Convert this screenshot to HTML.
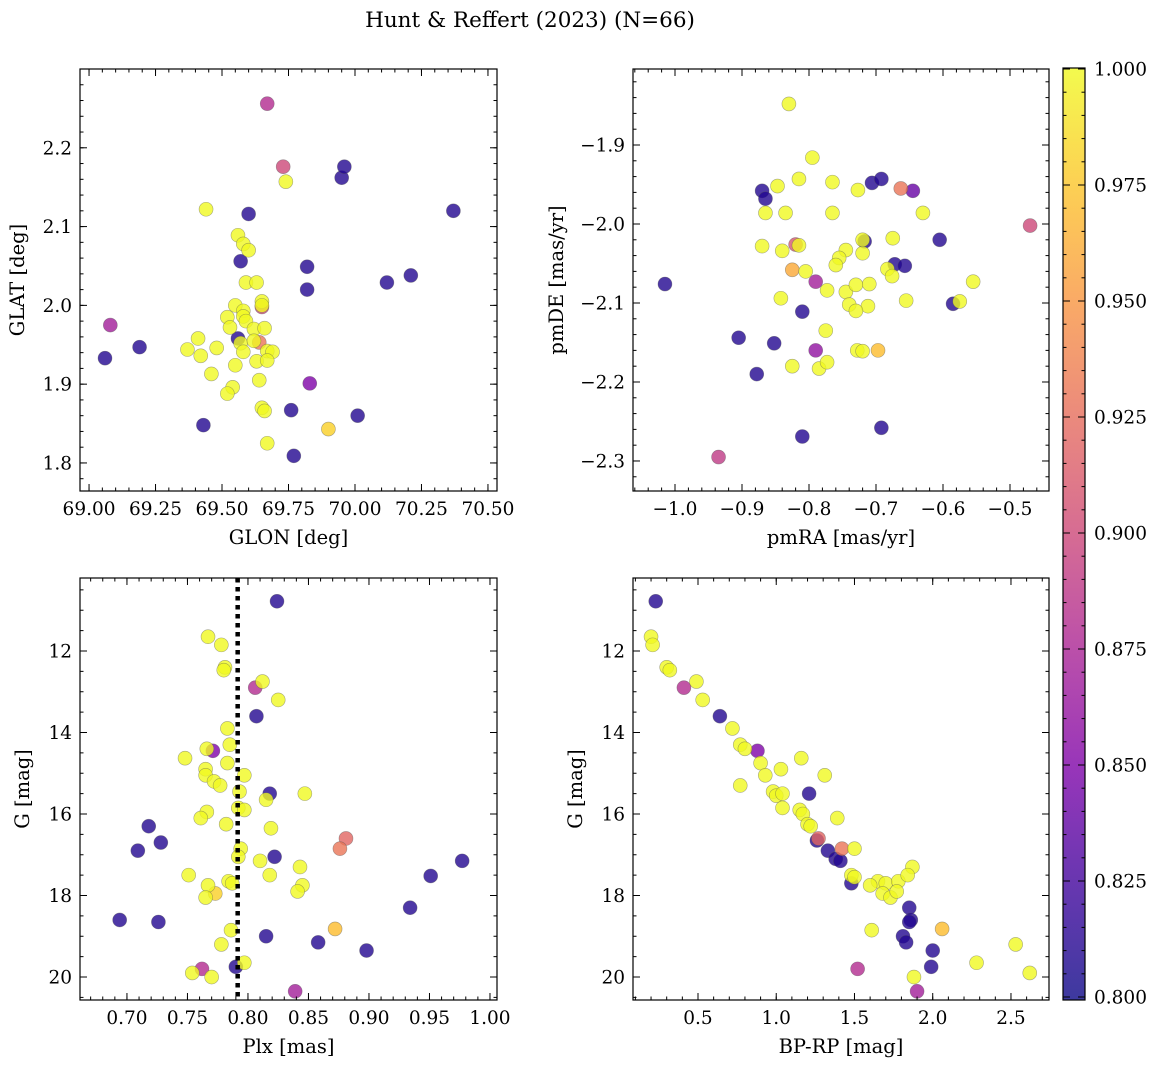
<!DOCTYPE html>
<html><head><meta charset="utf-8"><style>
body{margin:0;background:#fff;}
svg text{font-family:"DejaVu Serif","Liberation Serif",serif;fill:#000;}
</style></head><body>
<svg id="fig" width="1160" height="1068" xmlns="http://www.w3.org/2000/svg">
<text x="530" y="27" font-size="21.5" text-anchor="middle">Hunt &amp; Reffert (2023) (N=66)</text>
</svg>
<script>
// Panel 1: GLON vs GLAT
const glonVals=[69.06,69.19,69.43,69.57,69.60,69.56,69.76,69.77,69.82,69.82,69.83,69.95,69.96,70.01,70.12,70.21,70.37,69.08,69.67,69.73,69.65,69.64,
69.44,69.56,69.58,69.60,69.74,69.59,69.63,69.65,69.65,69.55,69.52,69.53,69.58,69.58,69.59,69.62,69.66,69.41,69.37,69.42,69.48,69.57,69.58,69.62,69.67,69.69,69.63,69.67,69.55,69.46,69.54,69.52,69.64,69.65,69.66,69.67,69.90];
const glatVals=[1.933,1.947,1.848,2.056,2.116,1.958,1.867,1.809,2.049,2.020,1.901,2.162,2.176,1.860,2.029,2.038,2.120,1.975,2.256,2.176,1.998,1.953,
2.122,2.089,2.078,2.070,2.157,2.029,2.029,2.005,2.000,2.000,1.985,1.972,1.993,1.986,1.980,1.970,1.971,1.958,1.944,1.936,1.946,1.952,1.941,1.955,1.942,1.941,1.929,1.930,1.924,1.913,1.896,1.888,1.905,1.870,1.866,1.825,1.843];
const probP1=[0.81,0.81,0.81,0.81,0.81,0.81,0.81,0.81,0.81,0.81,0.85,0.81,0.81,0.81,0.81,0.81,0.81,0.87,0.88,0.90,0.90,0.93,
1,1,1,1,1,1,1,1,1,1,1,1,1,1,1,1,1,1,1,1,1,1,1,1,1,1,1,1,1,1,1,1,1,1,1,1,0.98];
// Panel 2: pmRA vs pmDE
const pmraVals=[-1.015,-0.905,-0.852,-0.878,-0.87,-0.865,-0.810,-0.810,-0.717,-0.706,-0.692,-0.692,-0.672,-0.657,-0.645,-0.605,-0.585,-0.790,-0.790,
-0.935,-0.47,-0.663,-0.82,-0.825,-0.697,
-0.83,-0.795,-0.815,-0.765,-0.847,-0.727,-0.865,-0.835,-0.765,-0.63,-0.87,-0.84,-0.815,-0.745,-0.755,-0.76,-0.805,-0.72,-0.675,-0.72,-0.683,-0.676,-0.745,-0.773,-0.73,-0.71,-0.712,-0.74,-0.73,-0.655,-0.575,-0.555,-0.842,-0.775,-0.825,-0.785,-0.773,-0.728,-0.72];
const pmdeVals=[-2.076,-2.144,-2.151,-2.190,-1.958,-1.968,-2.111,-2.269,-2.022,-1.948,-1.943,-2.258,-2.051,-2.053,-1.958,-2.020,-2.101,-2.160,-2.073,
-2.295,-2.002,-1.955,-2.026,-2.058,-2.160,
-1.848,-1.916,-1.943,-1.947,-1.952,-1.957,-1.986,-1.986,-1.986,-1.986,-2.028,-2.034,-2.027,-2.033,-2.043,-2.052,-2.060,-2.020,-2.018,-2.037,-2.057,-2.066,-2.086,-2.084,-2.077,-2.076,-2.104,-2.102,-2.110,-2.097,-2.098,-2.073,-2.094,-2.135,-2.180,-2.183,-2.175,-2.160,-2.161];
const probP2=[0.81,0.81,0.81,0.81,0.81,0.81,0.81,0.81,0.81,0.81,0.81,0.81,0.81,0.81,0.84,0.81,0.81,0.86,0.87,
0.89,0.90,0.93,0.91,0.96,0.97,
1,1,1,1,1,1,1,1,1,1,1,1,1,1,1,1,1,1,1,1,1,1,1,1,1,1,1,1,1,1,1,1,1,1,1,1,1,1,1];
// Panel 3: Plx vs G
const plxVals=[0.824,0.807,0.771,0.818,0.822,0.718,0.709,0.728,0.694,0.726,0.815,0.858,0.898,0.934,0.951,0.977,0.79,
0.806,0.762,0.839,0.881,0.876,0.872,0.773,
0.767,0.778,0.781,0.78,0.812,0.825,0.783,0.785,0.766,0.748,0.765,0.765,0.772,0.777,0.783,0.797,0.793,0.847,0.815,0.792,0.797,0.766,0.761,0.782,0.819,0.794,0.792,0.81,0.843,0.751,0.818,0.784,0.787,0.767,0.845,0.841,0.765,0.786,0.778,0.797,0.754,0.77];
const gP3=[10.78,13.6,14.45,15.5,17.05,16.3,16.9,16.7,18.6,18.65,19.0,19.15,19.35,18.3,17.52,17.15,19.75,
12.9,19.8,20.35,16.6,16.85,18.82,17.95,
11.65,11.85,12.4,12.47,12.75,13.2,13.9,14.3,14.4,14.63,14.9,15.05,15.2,15.3,14.75,15.05,15.45,15.5,15.65,15.85,15.9,15.95,16.1,16.25,16.35,16.85,17.05,17.15,17.3,17.5,17.5,17.65,17.7,17.75,17.75,17.9,18.05,18.85,19.2,19.65,19.9,20.0];
const probP3=[0.81,0.81,0.85,0.81,0.81,0.81,0.81,0.81,0.81,0.81,0.81,0.81,0.81,0.81,0.81,0.81,0.81,
0.88,0.88,0.87,0.92,0.93,0.97,0.98,
1,1,1,1,1,1,1,1,1,1,1,1,1,1,1,1,1,1,1,1,1,1,1,1,1,1,1,1,1,1,1,1,1,1,1,1,1,1,1,1,1,1];
const plxLine=[0.7915];
// Panel 4: BP-RP vs G
const bprpVals=[0.23,0.64,0.88,1.21,1.26,1.33,1.38,1.41,1.48,1.85,1.86,1.85,1.81,1.83,2.0,1.99,
0.41,1.52,1.9,1.27,1.42,2.06,
0.2,0.21,0.3,0.32,0.49,0.53,0.72,0.77,0.8,0.9,0.93,0.77,0.98,1.03,1.16,1.31,1.0,1.04,1.04,1.15,1.17,1.2,1.22,1.39,1.5,1.65,1.7,1.78,1.87,1.84,1.6,1.68,1.73,1.77,1.48,1.61,1.88,2.28,2.53,2.62,1.5];
const gP4=[10.78,13.6,14.45,15.5,16.65,16.9,17.1,17.15,17.7,18.3,18.6,18.65,19.0,19.15,19.35,19.75,
12.9,19.8,20.35,16.6,16.85,18.82,
11.65,11.85,12.4,12.47,12.75,13.2,13.9,14.3,14.4,14.75,15.05,15.3,15.45,14.9,14.63,15.05,15.55,15.5,15.85,15.9,16.0,16.25,16.3,16.1,16.85,17.65,17.7,17.65,17.3,17.5,17.75,17.95,18.05,17.9,17.5,18.85,20.0,19.65,19.2,19.9,17.55];
const probP4=[0.81,0.81,0.85,0.81,0.81,0.81,0.81,0.81,0.81,0.81,0.81,0.81,0.81,0.81,0.81,0.81,
0.88,0.88,0.87,0.92,0.93,0.97,
1,1,1,1,1,1,1,1,1,1,1,1,1,1,1,1,1,1,1,1,1,1,1,1,1,1,1,1,1,1,1,1,1,1,1,1,1,1,1,1,1];
// Colorbar ticks
const cbTicks=[0.800,0.825,0.850,0.875,0.900,0.925,0.950,0.975,1.000];

const NS="http://www.w3.org/2000/svg";
const svg=document.getElementById('fig');
function mk(tag,attrs,parent){const e=document.createElementNS(NS,tag);for(const k in attrs)e.setAttribute(k,attrs[k]);(parent||svg).appendChild(e);return e;}
const stops=[[0,[13,8,135]],[0.125,[65,4,157]],[0.25,[126,3,168]],[0.375,[170,35,149]],[0.5,[204,71,120]],[0.625,[230,108,92]],[0.75,[248,149,64]],[0.875,[253,196,39]],[1,[240,249,33]]];
function plasma(t){t=Math.max(0,Math.min(1,t));for(let i=1;i<stops.length;i++){if(t<=stops[i][0]){const a=stops[i-1],b=stops[i];const f=(t-a[0])/(b[0]-a[0]);const c=a[1].map((v,j)=>Math.round(v+(b[1][j]-v)*f));return `rgb(${c[0]},${c[1]},${c[2]})`;}}return 'rgb(240,249,33)';}
function pcol(p){return plasma((p-0.8)/0.2);}

const TF=18.5, LF=19.5;
function panel(cfg){
  const {name,L,T,R,B,x0,x1,y0,y1,inv,xt,xm,yt,ym,xdec,ydec,xlabel,ylabel,xs,ys,ps}=cfg;
  const g=mk('g',{});
  
  
  const X=v=>L+(v-x0)/(x1-x0)*(R-L);
  const Y=v=>inv?T+(v-y0)/(y1-y0)*(B-T):B-(v-y0)/(y1-y0)*(B-T);
  for(let i=0;i<xs.length;i++){
    const c=mk('circle',{cx:X(xs[i]),cy:Y(ys[i]),r:7,fill:pcol(ps[i]),'fill-opacity':0.8,stroke:'#555','stroke-opacity':0.5,'stroke-width':0.6},g);
    
    
  }
  if(cfg.vline){for(const v of cfg.vline){const l=mk('line',{x1:X(v),x2:X(v),y1:T,y2:B,stroke:'#000','stroke-width':4.5,'stroke-dasharray':'4.5,4.5'},g);
    
    }}
  const fr=mk('rect',{x:L,y:T,width:R-L,height:B-T,fill:'none',stroke:'#000','stroke-width':1.2},g);
  
  
  const ticks=mk('g',{stroke:'#000','stroke-width':1},g);
  for(let v=Math.ceil(x0/xm-1e-6)*xm;v<=x1+1e-9;v+=xm){const x=X(v);mk('line',{x1:x,x2:x,y1:B,y2:B-3.5},ticks);mk('line',{x1:x,x2:x,y1:T,y2:T+3.5},ticks);}
  for(let v=Math.ceil(y0/ym-1e-6)*ym;v<=y1+1e-9;v+=ym){const y=Y(v);mk('line',{x1:L,x2:L+3.5,y1:y,y2:y},ticks);mk('line',{x1:R,x2:R-3.5,y1:y,y2:y},ticks);}
  for(const v of xt){const x=X(v);mk('line',{x1:x,x2:x,y1:B,y2:B-7},ticks);mk('line',{x1:x,x2:x,y1:T,y2:T+7},ticks);
    const t=mk('text',{x:x,y:B+24,'font-size':TF,'text-anchor':'middle'},g);t.textContent=v.toFixed(xdec).replace('-','−');
    
    }
  for(const v of yt){const y=Y(v);mk('line',{x1:L,x2:L+7,y1:y,y2:y},ticks);mk('line',{x1:R,x2:R-7,y1:y,y2:y},ticks);
    const t=mk('text',{x:L-8,y:y+6.5,'font-size':TF,'text-anchor':'end'},g);t.textContent=v.toFixed(ydec).replace('-','−');
    
    }
  const xl=mk('text',{x:(L+R)/2,y:B+53,'font-size':LF,'text-anchor':'middle'},g);xl.textContent=xlabel;
  
  
  const yl=mk('text',{x:0,y:0,'font-size':LF,'text-anchor':'middle',transform:`translate(${cfg.ylx},${(T+B)/2}) rotate(-90)`},g);yl.textContent=ylabel;
  
  
}
function rng(a,b,s){const r=[];for(let v=a;v<=b+1e-9;v+=s)r.push(+v.toFixed(6));return r;}

panel({name:'glon-glat-panel',L:80,T:69,R:497,B:491,x0:68.966,x1:70.534,y0:1.7644,y1:2.300,xt:rng(69,70.5,0.25),xm:0.05,yt:rng(1.8,2.2,0.1),ym:0.02,xdec:2,ydec:1,xlabel:'GLON [deg]',ylabel:'GLAT [deg]',ylx:24,xs:glonVals,ys:glatVals,ps:probP1});
panel({name:'proper-motion-panel',L:633,T:69,R:1049,B:491,x0:-1.0627,x1:-0.4418,y0:-2.338,y1:-1.8038,xt:rng(-1,-0.5,0.1),xm:0.02,yt:rng(-2.3,-1.9,0.1),ym:0.02,xdec:1,ydec:1,xlabel:'pmRA [mas/yr]',ylabel:'pmDE [mas/yr]',ylx:563,xs:pmraVals,ys:pmdeVals,ps:probP2});
panel({name:'parallax-magnitude-panel',L:80,T:578,R:497,B:1000,x0:0.6612,x1:1.0058,y0:10.209,y1:20.564,inv:true,xt:rng(0.7,1.0,0.05),xm:0.01,yt:rng(12,20,2),ym:0.5,xdec:2,ydec:0,xlabel:'Plx [mas]',ylabel:'G [mag]',ylx:29,xs:plxVals,ys:gP3,ps:probP3,vline:plxLine});
panel({name:'color-magnitude-panel',L:633,T:578,R:1049,B:1000,x0:0.0847,x1:2.743,y0:10.209,y1:20.564,inv:true,xt:rng(0.5,2.5,0.5),xm:0.1,yt:rng(12,20,2),ym:0.5,xdec:1,ydec:0,xlabel:'BP-RP [mag]',ylabel:'G [mag]',ylx:582,xs:bprpVals,ys:gP4,ps:probP4});

// colorbar
const cb=mk('g',{});


const defs=mk('defs',{},cb);
const lg=mk('linearGradient',{id:'cbg',x1:0,y1:1,x2:0,y2:0},defs);
for(let i=0;i<=20;i++){mk('stop',{offset:i/20,'stop-color':plasma(i/20),'stop-opacity':0.8},lg);}
const CT=68,CB=1000,CL=1063,CR=1085;
mk('rect',{x:CL,y:CT,width:CR-CL,height:CB-CT,fill:'url(#cbg)',stroke:'#000','stroke-width':1.2},cb);
const CY=v=>CB-3-(v-0.8)/0.2*(CB-3-(CT+1));
for(let v=0.8;v<=1.0001;v+=0.005){mk('line',{x1:CR,x2:CR-3.5,y1:CY(v),y2:CY(v),stroke:'#000'},cb);mk('line',{x1:CL,x2:CL+3.5,y1:CY(v),y2:CY(v),stroke:'#000'},cb);}
for(const v of cbTicks){const y=CY(v);mk('line',{x1:CR,x2:CR-7,y1:y,y2:y,stroke:'#000'},cb);mk('line',{x1:CL,x2:CL+7,y1:y,y2:y,stroke:'#000'},cb);
  const t=mk('text',{x:CR+9,y:y+6.5,'font-size':TF},cb);t.textContent=v.toFixed(3);
  
  }
</script>
</body></html>
